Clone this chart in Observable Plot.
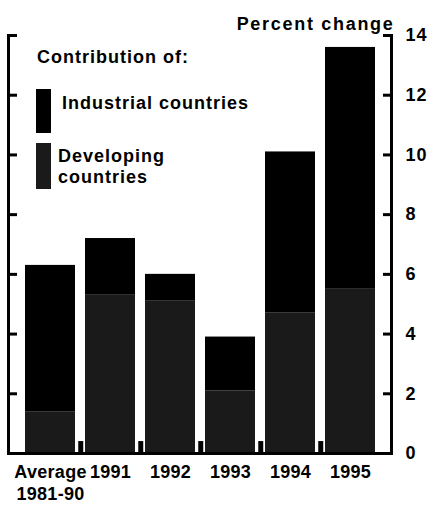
<!DOCTYPE html>
<html><head><meta charset="utf-8">
<script src="https://cdn.jsdelivr.net/npm/d3@7"></script>
<script src="https://cdn.jsdelivr.net/npm/@observablehq/plot@0.6"></script>
<style>
body{margin:0;background:#fff;}
#wrap{position:relative;width:433px;height:514px;font-family:"Liberation Sans",Arial,sans-serif;font-weight:bold;}
#wrap svg text{letter-spacing:1px;}
#wrap svg g[aria-label="x-axis tick label"] text{letter-spacing:0.3px;}
#wrap svg g[aria-label="text"] text{letter-spacing:1.7px;}
.lg{position:absolute;font-size:18px;letter-spacing:1px;color:#000;line-height:21px;white-space:nowrap;}
.sw{position:absolute;width:15px;}
</style></head><body><div id="wrap"></div>
<script>
const categories = ["Average 1981-90","1991","1992","1993","1994","1995"];
const tickLabels = ["Average\n1981-90","1991","1992","1993","1994","1995"];
const developing = [1.4,5.3,5.1,2.1,4.7,5.5];
const industrial = [4.9,1.9,0.9,1.8,5.4,8.1];
const series = ["Developing countries","Industrial countries"];
const seriesColors = ["#1a1a1a","#000000"];
const yTicks = [0,2,4,6,8,10,12,14];
const yLabel = "Percent change";
const legendTitle = "Contribution of:";

const table = [];
categories.forEach((c,i)=>{
  table.push({cat:c, series:series[0], value:developing[i]});
  table.push({cat:c, series:series[1], value:industrial[i]});
});
const labelOf = Object.fromEntries(categories.map((c,i)=>[c,tickLabels[i]]));

const W=433,H=514,mL=8,mR=42,mT=35,mB=61;
const pIn=0.17,pOut=0.25;
const step=(W-mL-mR)/(categories.length-pIn+2*pOut);

const chart = Plot.plot({
  width:W, height:H, marginLeft:mL, marginRight:mR, marginTop:mT, marginBottom:mB,
  style:{fontFamily:'"Liberation Sans", Arial, sans-serif', fontSize:"18px", fontWeight:"bold", color:"#000", background:"#fff"},
  x:{domain:categories, paddingInner:pIn, paddingOuter:pOut, align:0.5},
  y:{domain:[0,14]},
  color:{domain:series, range:seriesColors},
  marks:[
    Plot.barY(table,{x:"cat", y:"value", fill:"series"}),
    Plot.ruleX(categories.slice(0,-1),{x:d=>d, dx:step/2, y1:0, y2:0.4, stroke:"#000", strokeWidth:5}),
    Plot.ruleY([0],{stroke:"#000", strokeWidth:3}),
    Plot.frame({anchor:"left", stroke:"#000", strokeWidth:3}),
    Plot.frame({anchor:"right", stroke:"#000", strokeWidth:3}),
    Plot.axisY(yTicks,{anchor:"right", tickSize:9, dx:-9, tickPadding:14, strokeWidth:3, label:null, tickFormat:d=>String(d)}),
    Plot.axisY(yTicks,{anchor:"left", tickSize:9, dx:9, strokeWidth:3, label:null, tickFormat:()=>""}),
    Plot.axisX({tickSize:0, tickPadding:10, label:null, lineHeight:1.17, tickFormat:d=>labelOf[d]}),
    Plot.text([yLabel],{frameAnchor:"top-right", textAnchor:"end", dx:3, dy:-18, fontSize:18, fontWeight:"bold"})
  ]
});
const wrap=document.getElementById("wrap");
wrap.appendChild(chart);

function addText(t,left,top){const d=document.createElement("div");d.className="lg";d.textContent=t;d.style.left=left+"px";d.style.top=top+"px";wrap.appendChild(d);return d;}
function addSw(color,left,top,h){const d=document.createElement("div");d.className="sw";d.style.background=color;d.style.left=left+"px";d.style.top=top+"px";d.style.height=h+"px";wrap.appendChild(d);}
addText(legendTitle,37,47);
addSw(seriesColors[1],36,89,44);
addText("Industrial countries",62,93);
addSw(seriesColors[0],36,143,46);
const dv=addText("Developing\ncountries",58,146);
dv.style.whiteSpace="pre";
</script></body></html>
